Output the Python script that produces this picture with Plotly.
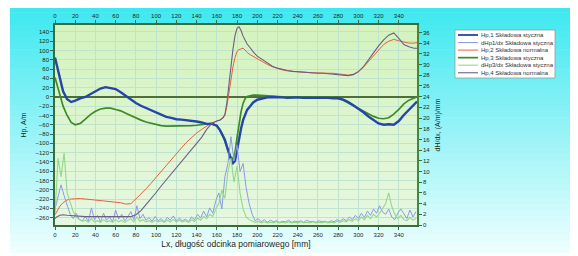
import plotly.graph_objects as go

# ---------------- data ----------------
X = [0, 2, 5, 8, 12, 16,
     20, 25, 30, 35, 40, 45, 50, 55, 60, 65, 70, 75, 80, 85, 90, 95, 100, 105, 110, 115,
     120, 125, 130, 135, 140, 145, 150, 155, 160,
     163, 166, 168, 170, 172, 174, 176, 178, 180, 182, 184, 186, 188, 190,
     193, 196,
     200, 205, 210, 215, 220, 225, 230, 235, 240, 245, 250, 255, 260, 265, 270, 275,
     280, 285, 290, 295, 300, 305, 310, 315, 320, 325, 330, 335, 340, 345, 350, 355,
     358]

HP1 = [85, 65, 35, 12, -5, -11,
       -8, -3, 0, 6, 12, 18, 21, 19, 17, 10, 2, -6, -13, -19, -24, -28, -34, -39, -43, -45,
       -48, -49, -50, -51, -53, -55, -58, -58, -62,
       -71, -82, -92, -107, -122, -135, -143, -138, -115, -90, -68, -50, -38, -28,
       -20, -12,
       -6, -3, -1, 0, 0, -1, -2, -1, -1, -2, -2, -1, -2, -2, -2, -3,
       -3, -6, -11, -18, -25, -33, -42, -50, -57, -60, -59, -60, -52, -39, -28, -17,
       -10]

HP3 = [42, 25, 0, -20, -40, -55,
       -60, -57, -48, -38, -31, -26, -24, -24, -27, -30, -35, -40, -46, -50, -54, -57, -60, -62, -63, -63,
       -63, -62, -62, -62, -61, -60, -58, -57, -62,
       -71, -84, -95, -108, -120, -130, -134, -120, -88, -58, -32, -14, -4, 1,
       3, 4,
       4, 3, 2, 1, 0, 0, 0, -1, 0, -1, -1, 0, -1, -1, -1, -1,
       -3, -7, -13, -19, -24, -30, -36, -42, -46, -47, -45, -37, -27, -15, -7, -2,
       0]

HP2 = [-254, -245, -235, -228, -222, -220,
       -219, -219, -220, -221, -222, -223, -224, -225, -226, -228, -231, -230, -220, -210, -198, -186, -173, -160, -147, -135,
       -122, -110, -98, -87, -78, -70, -63, -56, -52,
       -50, -46, -40, -20, 10, 40, 65, 85, 98, 102, 104, 105, 101, 96,
       91, 87,
       82, 76, 70, 65, 61, 58, 56, 55, 54, 54, 53, 52, 52, 51, 51, 51,
       50, 48, 47, 49, 55, 64, 76, 89, 102, 113, 120, 124, 121, 118, 116, 116,
       117]

HP4 = [-262, -258, -255, -254, -255, -256,
       -257, -257, -258, -258, -258, -258, -258, -259, -259, -259, -259, -258, -254, -245, -232, -220, -206, -192, -179, -167,
       -154, -141, -128, -115, -101, -87, -70, -57, -52,
       -50, -45, -38, -12, 28, 68, 103, 132, 148, 151, 143, 131, 121, 114,
       106, 97,
       88, 80, 72, 66, 62, 59, 57, 55, 54, 53, 53, 52, 51, 51, 50, 50,
       49, 47, 46, 48, 54, 65, 79, 95, 110, 123, 133, 138, 126, 113, 108, 105,
       105]

XD = list(range(0, 358, 3))

DH1 = [3.0, 5.0, 7.5, 5.5, 3.5, 2.0, 1.2, 2.2, 1.0, 0.8,
       1.6, 0.7, 3.2, 1.0, 1.8, 0.6, 2.2, 0.9, 1.5, 0.6,
       2.8, 1.1, 2.0, 0.8, 1.5, 2.5, 1.0, 3.6, 1.2, 2.0,
       0.9, 1.4, 0.7, 1.6, 0.8, 1.2, 0.6, 1.4, 0.9, 1.7,
       0.7, 1.3, 0.8, 1.1, 0.6, 1.5, 1.0, 2.0, 1.3, 2.6,
       1.5, 3.2, 2.2, 4.5, 6.0, 3.0, 9.0, 11.5, 16.5, 12.0,
       15.0, 10.0, 11.5, 7.0, 4.0, 2.0, 0.8, 1.2, 0.6, 1.0,
       0.5, 0.9, 0.6, 0.8, 0.5, 0.7, 0.6, 0.9, 0.5, 0.7,
       0.6, 0.8, 0.5, 0.9, 0.6, 0.7, 0.5, 0.8, 0.6, 0.7,
       0.5, 0.8, 0.6, 1.0, 0.7, 1.2, 0.8, 1.5, 1.0, 1.8,
       1.2, 2.2, 1.4, 2.6, 1.8, 3.0, 2.2, 3.6, 2.4, 2.0,
       3.0, 1.5, 1.0, 2.2, 3.0, 2.0, 1.2, 2.8, 1.5, 2.5]

DH3 = [2.0, 12.5, 9.0, 13.5, 6.0, 4.3, 2.5, 1.5, 1.0, 0.7,
       0.9, 0.5, 1.2, 0.6, 0.8, 0.5, 1.0, 0.6, 0.8, 0.5,
       1.0, 0.6, 0.9, 0.5, 0.8, 1.2, 0.6, 1.5, 0.7, 1.0,
       0.6, 0.8, 0.5, 0.9, 0.6, 0.8, 0.5, 0.9, 0.6, 1.0,
       0.6, 0.9, 0.6, 0.8, 0.5, 1.0, 0.7, 1.3, 0.9, 1.6,
       1.2, 2.0, 1.6, 3.0, 4.0, 6.5, 5.0, 10.0, 12.5, 8.0,
       11.0, 6.0, 3.0, 1.5, 1.0, 0.7, 0.5, 0.7, 0.4, 0.6,
       0.4, 0.5, 0.4, 0.6, 0.4, 0.5, 0.4, 0.6, 0.4, 0.5,
       0.4, 0.6, 0.4, 0.5, 0.4, 0.6, 0.4, 0.5, 0.4, 0.6,
       0.4, 0.5, 0.4, 0.7, 0.5, 0.8, 0.6, 1.0, 0.7, 1.2,
       0.8, 1.5, 1.0, 1.8, 1.2, 2.0, 1.5, 2.2, 3.0, 4.0,
       6.0, 3.5, 2.0, 1.2, 1.8, 1.0, 0.8, 1.4, 0.9, 1.2]

NAMES = ["Hp,1 Składowa styczna", "dHp1/dx Składowa styczna", "Hp,2 Składowa normalna",
         "Hp,3 Składowa styczna", "dHp3/dx Składowa styczna", "Hp,4 Składowa normalna"]
COLORS = ["#2446a8", "#8c9ae6", "#e8603c", "#3d8a26", "#92d88c", "#6e5e86"]
WIDTHS = [2.4, 1, 1, 1.7, 1.1, 1.1]

X_RANGE = [0, 358]
Y_RANGE = [-276, 155]
Y2_RANGE = [0, 37.4]
X_TITLE = "Lx, długość odcinka pomiarowego [mm]"
Y_TITLE = "Hp, A/m"
Y2_TITLE = "dH/dx, (A/m)/mm"

FONT = "Liberation Sans, Arial, sans-serif"

fig = go.Figure()
fig.add_trace(go.Scatter(x=XD, y=DH1, name=NAMES[1], mode="lines", xaxis="x", yaxis="y2",
                         line=dict(color=COLORS[1], width=WIDTHS[1])))
fig.add_trace(go.Scatter(x=XD, y=DH3, name=NAMES[4], mode="lines", xaxis="x", yaxis="y2",
                         line=dict(color=COLORS[4], width=WIDTHS[4])))
fig.add_trace(go.Scatter(x=X, y=HP4, name=NAMES[5], mode="lines", xaxis="x2", yaxis="y",
                         line=dict(color=COLORS[5], width=WIDTHS[5])))
fig.add_trace(go.Scatter(x=X, y=HP2, name=NAMES[2], mode="lines", xaxis="x", yaxis="y",
                         line=dict(color=COLORS[2], width=WIDTHS[2])))
fig.add_trace(go.Scatter(x=X, y=HP3, name=NAMES[3], mode="lines", xaxis="x", yaxis="y",
                         line=dict(color=COLORS[3], width=WIDTHS[3])))
fig.add_trace(go.Scatter(x=X, y=HP1, name=NAMES[0], mode="lines", xaxis="x", yaxis="y",
                         line=dict(color=COLORS[0], width=WIDTHS[0])))

# ---- layout geometry (page pixels; the page body adds an 8px offset) ----
OFF = 8
W, H = 578 - OFF, 256 - OFF
L, R, T, B = 55, 417, 25, 225          # plot area in page pixels
pw, ph = R - L, B - T


def px_x(p):
    return (p - L) / pw


def px_y(p):
    return (B - p) / ph


shapes = []
# cyan gradient panel
n = 40
top_c = (62, 232, 240)
bot_c = (236, 254, 254)
py0, py1 = 6, 253
for i in range(n):
    a = py0 + (py1 - py0) * i / n
    b = py0 + (py1 - py0) * (i + 1) / n + 0.6
    t = i / (n - 1)
    c = tuple(int(round(top_c[k] + (bot_c[k] - top_c[k]) * t)) for k in range(3))
    shapes.append(dict(type="rect", xref="paper", yref="paper", layer="below",
                       x0=px_x(10), x1=px_x(572), y0=px_y(min(b, py1)), y1=px_y(a),
                       line=dict(width=0), fillcolor="rgb(%d,%d,%d)" % c))
# plot-area gradient (light green)
pa_top = (212, 243, 190)
pa_bot = (230, 248, 225)
m = 20
for i in range(m):
    a = T + ph * i / m
    b = T + ph * (i + 1) / m + 0.6
    t = i / (m - 1)
    c = tuple(int(round(pa_top[k] + (pa_bot[k] - pa_top[k]) * t)) for k in range(3))
    shapes.append(dict(type="rect", xref="paper", yref="paper", layer="below",
                       x0=0, x1=1, y0=px_y(min(b, B)), y1=px_y(a),
                       line=dict(width=0), fillcolor="rgb(%d,%d,%d)" % c))

# legend box
lx0, lx1, ly0, ly1 = 455, 555, 30, 78
shapes.append(dict(type="rect", xref="paper", yref="paper", layer="above",
                   x0=px_x(lx0), x1=px_x(lx1), y0=px_y(ly1), y1=px_y(ly0),
                   line=dict(width=0.8, color="#9a9a9a"), fillcolor="white"))
annotations = []
for j in range(len(NAMES)):
    yy = 35 + j * 7.55
    shapes.append(dict(type="line", xref="paper", yref="paper", layer="above",
                       x0=px_x(458), x1=px_x(478), y0=px_y(yy), y1=px_y(yy),
                       line=dict(color=COLORS[j], width=min(WIDTHS[j], 1.8))))
    annotations.append(dict(xref="paper", yref="paper", x=px_x(479), y=px_y(yy),
                            xanchor="left", yanchor="middle", showarrow=False,
                            text=NAMES[j], font=dict(size=6, color="#333", family=FONT)))

axis_col = "#3b6b3b"
grid_col = "#bfe3cf"
tick_font = dict(size=6, color="#1a2a1a", family=FONT)

fig.update_layout(
    width=W, height=H,
    margin=dict(l=L - OFF, r=578 - R, t=T - OFF, b=256 - B, pad=0, autoexpand=False),
    paper_bgcolor="white",
    plot_bgcolor="rgba(0,0,0,0)",
    showlegend=False,
    shapes=shapes,
    annotations=annotations,
    xaxis=dict(range=X_RANGE, dtick=20, tick0=0, showgrid=True, gridcolor=grid_col, gridwidth=0.8,
               zeroline=False, showline=True, linecolor=axis_col, linewidth=1.5, automargin=False,
               ticks="outside", ticklen=3, tickcolor=axis_col, tickfont=tick_font,
               title=dict(text=X_TITLE, font=dict(size=8.5, color="#1a2a1a", family=FONT), standoff=4)),
    xaxis2=dict(range=X_RANGE, dtick=20, tick0=0, overlaying="x", side="top", showgrid=False,
                zeroline=False, showline=True, linecolor=axis_col, linewidth=1.5, automargin=False,
                ticks="outside", ticklen=3, tickcolor=axis_col, tickfont=tick_font),
    yaxis=dict(range=Y_RANGE, dtick=20, tick0=0, showgrid=True, gridcolor=grid_col, gridwidth=0.8,
               zeroline=True, zerolinecolor="#4f6e3a", zerolinewidth=1.5, automargin=False,
               showline=True, linecolor=axis_col, linewidth=1.5,
               ticks="outside", ticklen=3, tickcolor=axis_col, tickfont=tick_font,
               title=dict(text=Y_TITLE, font=dict(size=7, color="#1a2a1a", family=FONT), standoff=8)),
    yaxis2=dict(range=Y2_RANGE, dtick=2, tick0=0, overlaying="y", side="right", showgrid=False,
                zeroline=False, showline=True, linecolor="#3f8a3f", linewidth=1.5, automargin=False,
                ticks="outside", ticklen=3, tickcolor=axis_col, tickfont=tick_font,
                title=dict(text=Y2_TITLE, font=dict(size=7, color="#1a2a1a", family=FONT), standoff=6)),
)

fig.write_html("out.html")
